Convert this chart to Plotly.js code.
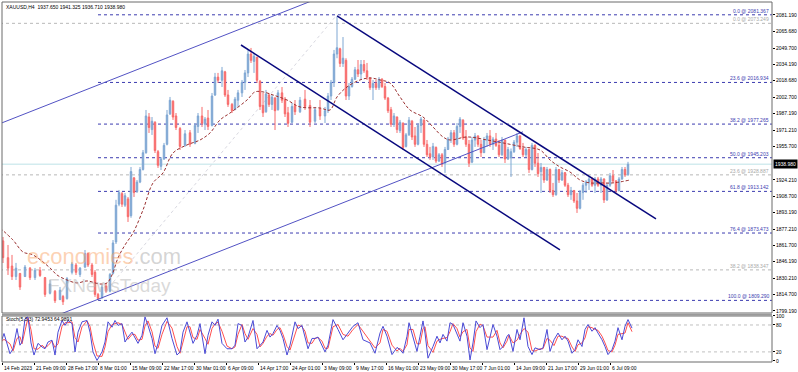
<!DOCTYPE html>
<html><head><meta charset="utf-8">
<script src="https://cdn.plot.ly/plotly-3.0.1.min.js"></script>
<style>html,body{margin:0;padding:0;background:#fff}#chart{width:798px;height:372px}</style>
</head><body><div id="chart"></div>
<script>
// ---- data (bar index on the H4 time scale) ----
const bars = [3,8,12,16,20,25,30,35,40,45,50,55,60,63,67,72,76,80,85,88,92,95,98,102,106,110,113,116,119,122,125,128,131,134,137,140,143,146,149,152,155,158,161,164,167,170,173,176,180,185,190,195,198,202,205,208,212,215,218,222,225,228,232,235,238,242,245,248,251,254,257,260,263,266,269,272,275,278,282,285,288,292,295,300,305,310,315,320,325,328,331,334,337,340,343,346,349,352,355,358,361,364,367,370,373,376,379,382,385,388,391,394,397,400,403,406,409,412,415,418,421,424,427,430,433,436,439,442,445,448,451,454,457,460,463,466,469,472,475,478,481,484,487,490,493,496,499,502,505,508,511,514,517,520,523,526,529,532,535,538,541,544,547,550,553,556,559,562,565,568,571,574,577,580,583,586,589,592,595,598,601,604,607,610,613,616,619,622,625,628];
const opens = [1866,1850,1842,1832,1835,1832,1840,1831,1838,1831,1816,1818,1810,1813,1811,1836,1843,1834,1841,1854,1843,1836,1815,1812,1823,1818,1835,1865,1901,1911,1900,1906,1890,1926,1913,1922,1934,1950,1984,1972,1979,1951,1937,1944,1958,1987,1999,1985,1973,1957,1969,1959,1975,1985,1977,1983,1976,2005,2022,2019,2027,2005,1996,1991,2000,2007,2017,2026,2044,2037,2041,2018,1995,1989,2005,1996,2002,1991,2007,2001,1988,1979,1995,1989,2001,1995,1980,1992,1985,1990,2004,2017,2044,2049,2035,2038,2004,2013,2020,2029,2025,2034,2028,2021,2012,2016,2012,2020,2013,2002,1991,1977,1984,1971,1978,1956,1967,1980,1966,1958,1976,1981,1958,1949,1946,1955,1942,1948,1940,1953,1963,1969,1958,1975,1981,1965,1958,1941,1962,1966,1958,1950,1962,1966,1958,1963,1957,1948,1962,1944,1945,1951,1960,1966,1954,1948,1953,1934,1957,1940,1932,1936,1924,1934,1914,1910,1934,1924,1931,1919,1910,1914,1904,1897,1912,1919,1922,1925,1919,1925,1919,1925,1905,1919,1928,1923,1914,1925,1934,1929];
const highs = [1869.7,1862.1,1852.6,1845.0,1835.4,1843.0,1841.1,1840.2,1841.1,1831.6,1828.7,1819.2,1822.1,1814.5,1831.6,1845.9,1845.0,1841.1,1857.3,1855.0,1845.0,1838.2,1816.4,1824.0,1825.9,1835.4,1866.8,1905.1,1914.5,1912.6,1911.6,1907.8,1936.4,1926.9,1924.0,1936.4,1952.6,1990.7,1987.8,1984.0,1980.0,1952.6,1945.9,1959.3,1990.7,2003.1,2000.0,1987.8,1974.5,1971.6,1971.6,1978.3,1987.8,1993.6,1984.0,1990.7,2006.9,2026.0,2026.0,2031.7,2028.0,2009.8,1997.4,2003.1,2009.8,2019.3,2028.8,2047.9,2049.8,2045.0,2041.2,2019.3,2006.9,2009.8,2006.9,2005.0,2003.1,2009.8,2012.6,2003.1,1993.6,1997.4,2000.2,2003.1,2009.8,2000.2,1993.6,2000.2,1993.6,2006.9,2019.3,2047.9,2079.3,2050.0,2060.2,2040.0,2016.4,2022.1,2031.7,2038.3,2038.3,2038.3,2035.5,2022.1,2019.3,2019.3,2022.1,2021.0,2016.4,2003.1,1993.6,1987.8,1984.5,1981.2,1979.0,1968.8,1984.0,1981.2,1974.5,1978.3,1984.0,1982.0,1962.1,1955.5,1959.3,1956.0,1949.7,1949.7,1955.5,1965.0,1971.6,1971.6,1978.3,1984.0,1982.0,1971.6,1962.1,1965.0,1968.8,1966.5,1962.1,1965.0,1968.8,1971.6,1965.0,1968.8,1962.1,1965.0,1962.5,1955.5,1954.0,1962.1,1968.8,1966.5,1959.3,1955.5,1954.0,1959.3,1958.0,1949.7,1940.2,1936.4,1936.4,1935.0,1921.2,1936.4,1934.5,1933.5,1931.5,1921.2,1917.4,1914.5,1911.6,1914.5,1921.2,1924.0,1926.9,1926.9,1926.9,1926.9,1926.9,1925.5,1921.2,1930.7,1933.5,1924.0,1926.9,1936.4,1936.4,1941.3];
const lows = [1844.9,1833.5,1828.7,1828.7,1819.2,1831.6,1828.7,1828.7,1831.6,1812.6,1815.0,1806.8,1809.7,1804.9,1810.0,1834.0,1833.5,1831.6,1840.0,1841.1,1831.6,1812.6,1809.7,1810.5,1816.4,1817.0,1834.0,1863.0,1899.0,1898.3,1898.3,1884.0,1888.0,1907.8,1911.6,1921.0,1933.0,1949.0,1968.8,1966.9,1949.7,1935.5,1933.5,1943.1,1957.0,1985.9,1981.2,1971.6,1952.6,1955.5,1955.5,1958.0,1968.8,1974.5,1971.6,1971.6,1975.0,2004.0,2016.4,2012.6,2003.1,1993.6,1987.8,1990.7,1993.6,2003.1,2009.8,2022.1,2035.5,2026.0,2016.4,1990.7,1984.0,1988.0,1993.6,1990.7,1971.6,1990.0,1997.4,1984.0,1974.5,1978.3,1985.9,1987.8,1990.7,1974.5,1978.3,1981.2,1978.3,1987.8,2000.2,2012.6,2040.0,2031.7,2031.7,2000.2,2000.2,2012.0,2019.3,2022.1,2019.3,2026.0,2019.3,2009.8,2000.2,2009.8,2009.8,2011.6,2000.2,1987.8,1974.5,1974.5,1968.8,1968.8,1952.6,1955.0,1966.0,1962.1,1955.5,1957.0,1968.8,1955.5,1945.9,1943.1,1943.1,1940.2,1941.1,1936.4,1930.7,1952.6,1959.3,1955.5,1957.0,1968.8,1962.1,1955.5,1936.4,1940.0,1955.5,1955.5,1945.9,1949.7,1955.5,1955.5,1952.6,1955.5,1945.9,1947.0,1940.2,1943.0,1926.9,1949.7,1955.5,1952.6,1945.9,1945.9,1930.7,1933.0,1936.4,1926.9,1911.6,1921.2,1923.0,1911.6,1907.8,1909.0,1921.2,1923.0,1917.4,1907.8,1905.1,1902.1,1892.6,1896.0,1905.1,1911.6,1914.5,1917.4,1911.6,1917.4,1911.6,1902.1,1904.0,1917.4,1921.2,1911.6,1913.0,1924.0,1926.9,1928.0];
const closes = [1850,1840,1832,1840,1822,1841,1831,1838,1833,1815,1825,1809,1819,1808,1830,1844,1836,1840,1854,1843,1834,1815,1811,1822,1818,1834,1864,1900,1912,1901,1909,1889,1932,1912,1922,1934,1950,1985,1974,1980,1952,1938,1944,1957,1986,2000,1984,1974,1956,1968,1958,1976,1985,1978,1982,1975,2004,2022,2019,2028,2005,1996,1990,2001,2007,2017,2026,2044,2038,2042,2019,1994,1988,2006,1996,2003,1990,2007,2000,1987,1978,1994,1989,2000,1994,1979,1991,1985,1990,2004,2017,2044,2050,2035,2040,2004,2013,2020,2029,2025,2034,2028,2022,2012,2016,2012,2020,2013,2002,1990,1977,1985,1972,1979,1955,1967,1981,1965,1958,1976,1982,1958,1948,1946,1956,1942,1948,1939,1953,1963,1969,1958,1975,1982,1964,1958,1940,1962,1966,1958,1950,1962,1966,1958,1963,1957,1948,1962,1944,1953,1951,1960,1966,1954,1948,1953,1934,1957,1940,1930,1936,1924,1934,1914,1910,1934,1924,1931,1919,1910,1914,1904,1897,1912,1919,1922,1925,1919,1925,1919,1925,1905,1919,1928,1923,1914,1925,1934,1929,1938.98];

const maBars = [0,13,23,33,50,57,67,77,87,100,107,112,118,125,133,143,153,163,173,187,200,210,220,230,247,255,263,273,287,300,320,330,337,347,360,370,380,390,400,410,423,433,443,450,467,487,503,523,540,550,560,570,580,590,600,613,630];
const maValues = [1878.3,1866.8,1855.4,1852.6,1840.2,1833.5,1828.7,1825.9,1827.8,1824.9,1825.9,1833.5,1849.7,1862.1,1873.5,1895.4,1921.2,1930.7,1949.7,1957.4,1962.1,1968.8,1981.2,1987.8,2000.2,2007.9,2007.9,2005.0,2000.2,1993.6,1992.6,1990.7,2003.1,2012.6,2019.3,2021.2,2019.3,2016.4,2003.1,1990.7,1984.0,1974.5,1965.0,1962.1,1965.0,1962.1,1959.3,1955.5,1952.6,1943.1,1936.4,1931.6,1924.0,1921.2,1921.2,1921.2,1924.0];

const stochBars = [0,4,10,13,17,20,22,25,28,31,34,38,42,45,48,52,55,58,62,65,68,72,75,78,82,87,90,93,97,102,105,108,112,115,118,122,125,128,132,135,138,142,145,148,152,155,158,162,167,172,177,180,183,187,190,193,197,200,205,208,212,215,218,222,227,232,235,238,242,245,248,253,257,260,263,267,270,273,277,280,283,287,290,295,298,302,305,308,312,315,318,322,325,328,330,333,338,343,348,353,358,363,370,375,380,383,387,392,397,400,403,407,409,413,417,420,423,425,428,433,437,440,443,447,450,453,457,460,463,467,470,473,476,480,483,487,493,497,500,503,507,509,513,517,520,524,528,532,535,540,543,547,550,554,558,562,565,568,572,575,578,582,585,588,592,595,598,602,605,608,612,615,618,622,625,628,632];
const stochMain = [35,61,16,27,72,35,42,94,98,40,13,39,31,27,42,46,13,64,90,79,90,83,20,64,87,90,64,20,1,20,42,87,75,90,79,83,42,53,64,53,39,57,98,79,50,16,39,79,96,50,13,20,64,87,64,39,57,83,16,57,87,79,93,39,27,27,35,83,79,42,53,90,27,35,42,68,53,61,79,68,50,13,35,87,72,79,53,27,50,50,53,35,20,35,60,92,70,47,62,77,85,47,40,17,62,77,55,14,30,25,17,55,85,55,21,55,89,62,6,32,55,40,59,44,85,81,62,44,85,55,2,40,89,74,81,25,81,55,25,32,55,59,21,70,47,96,32,14,29,25,29,70,21,47,62,47,55,44,17,25,47,32,70,81,66,74,62,47,32,14,25,44,74,47,77,92,73];
const stochSignal = [40,48,38,22,50,54,38,68,96,69,27,26,35,29,34,44,30,38,77,85,85,87,52,42,76,89,77,42,11,10,31,65,81,83,85,81,63,48,59,59,46,48,78,89,65,33,28,59,88,73,32,17,42,76,76,52,48,70,50,37,72,83,86,66,33,27,31,59,81,61,48,72,59,31,39,55,61,57,70,74,59,32,24,61,80,76,66,40,39,50,52,44,28,28,48,76,81,59,55,70,81,66,44,29,40,70,66,35,22,28,21,36,70,70,38,38,72,76,34,19,44,48,50,52,65,83,72,53,65,70,29,21,65,82,78,53,53,68,40,29,44,57,40,46,59,72,64,23,22,27,27,50,46,34,55,55,51,50,31,21,36,40,51,76,74,70,68,55,40,23,20,35,59,61,62,85,65];

const priceTicks = [2081.19,2065.68,2049.70,2034.19,2018.68,2002.70,1987.19,1971.21,1955.70,1924.21,1908.70,1893.19,1877.21,1861.70,1846.19,1830.21,1814.70,1799.19];
const currentPrice = 1938.98;
const timeLabelBars = [2,34,66,98,130,162,194,226,258,290,322,354,386,418,450,482,514,546,578,610];
const timeLabels = ["14 Feb 2023","21 Feb 09:00","28 Feb 17:00","8 Mar 01:00","15 Mar 09:00","22 Mar 17:00","30 Mar 01:00","6 Apr 09:00","14 Apr 17:00","24 Apr 01:00","3 May 09:00","9 May 17:00","16 May 01:00","23 May 09:00","30 May 17:00","7 Jun 01:00","14 Jun 09:00","21 Jun 17:00","29 Jun 01:00","6 Jul 09:00"];
const fibBlueLevels = ["0.0","23.6","38.2","50.0","61.8","76.4","100.0"];
const fibBluePrices = [2081.367,2016.934,1977.265,1945.203,1913.142,1873.473,1809.290];
const fibGrayLevels = ["0.0","23.6","38.2"];
const fibGrayPrices = [2073.249,1928.887,1838.347];
const fibBlueStartBar = 98;
// trend line anchors [bar, price]
const upChannelTop = [[0,1977.7],[314,2095.5]];
const upChannelBottom = [[62,1796.8],[523,1969.9]];
const downChannelTop = [[337,2080.3],[656,1886.9]];
const downChannelBottom = [[241,2052.6],[560,1857.3]];
const fibTrend = [[98,1809.3],[337,2081.4]];

const FONT = "Liberation Sans, Arial, sans-serif";
const X_END = 772;

const traces = [
  {type:'candlestick', x:bars, open:opens, high:highs, low:lows, close:closes, xaxis:'x', yaxis:'y',
   increasing:{line:{color:'#7fa7d3', width:1}, fillcolor:'#7fa7d3'},
   decreasing:{line:{color:'#f76b6b', width:1}, fillcolor:'#f76b6b'},
   hoverinfo:'skip', showlegend:false},
  {type:'scatter', mode:'lines', x:maBars, y:maValues, xaxis:'x', yaxis:'y',
   line:{color:'#9a3030', width:1, dash:'3px,2px', shape:'spline'}, hoverinfo:'skip', showlegend:false},
  {type:'scatter', mode:'lines', x:stochBars, y:stochSignal, xaxis:'x', yaxis:'y2',
   line:{color:'#ff5050', width:1}, hoverinfo:'skip', showlegend:false},
  {type:'scatter', mode:'lines', x:stochBars, y:stochMain, xaxis:'x', yaxis:'y2',
   line:{color:'#4b4bd6', width:1}, hoverinfo:'skip', showlegend:false}
];

const shapes = [];
const annotations = [];
// current price line
shapes.push({type:'line', xref:'x', yref:'y', x0:0, x1:X_END, y0:currentPrice, y1:currentPrice, line:{color:'#d3ecef', width:1.5}, layer:'below'});
// gray fib
fibGrayPrices.forEach((p,i)=>{
  shapes.push({type:'line', xref:'x', yref:'y', x0:0, x1:X_END, y0:p, y1:p, line:{color:'#b8b8b8', width:1, dash:'dot'}, layer:'below'});
  annotations.push({xref:'paper', yref:'y', x:0.9987, y:p, xanchor:'right', yanchor:'bottom', yshift:-1, showarrow:false,
    text:fibGrayLevels[i]+' @ '+p.toFixed(3), font:{family:FONT, size:5, color:'#a8a8a8'}});
});
// blue fib
fibBluePrices.forEach((p,i)=>{
  shapes.push({type:'line', xref:'x', yref:'y', x0:fibBlueStartBar, x1:X_END, y0:p, y1:p, line:{color:'#3c3cb0', width:1, dash:'dot'}, layer:'below'});
  annotations.push({xref:'paper', yref:'y', x:0.9987, y:p, xanchor:'right', yanchor:'bottom', yshift:-1, showarrow:false,
    text:fibBlueLevels[i]+' @ '+p.toFixed(3), font:{family:FONT, size:5, color:'#3c3cb0'}});
});
shapes.push({type:'line', xref:'x', yref:'y', x0:fibTrend[0][0], y0:fibTrend[0][1], x1:fibTrend[1][0], y1:fibTrend[1][1], line:{color:'#d8d8e0', width:1, dash:'dot'}, layer:'below'});
// channels
[upChannelTop, upChannelBottom].forEach(c=>shapes.push({type:'line', xref:'x', yref:'y', x0:c[0][0], y0:c[0][1], x1:c[1][0], y1:c[1][1], line:{color:'#5252c4', width:1}}));
[downChannelTop, downChannelBottom].forEach(c=>shapes.push({type:'line', xref:'x', yref:'y', x0:c[0][0], y0:c[0][1], x1:c[1][0], y1:c[1][1], line:{color:'#08087e', width:1.5}}));
// stoch levels
[80,20].forEach(v=>shapes.push({type:'line', xref:'x', yref:'y2', x0:0, x1:X_END, y0:v, y1:v, line:{color:'#c0c0c0', width:1, dash:'dot'}, layer:'below'}));
// frames
shapes.push({type:'rect', xref:'paper', yref:'paper', x0:0, x1:1, y0:0.1361, y1:1, line:{color:'#6a6a6a', width:1}});
shapes.push({type:'rect', xref:'paper', yref:'paper', x0:0, x1:1, y0:0, y1:0.1278, line:{color:'#6a6a6a', width:1}});
shapes.push({type:'line', xref:'paper', yref:'paper', x0:0, x1:1, y0:0.1315, y1:0.1315, line:{color:'#9a9a9a', width:2}});

// current price tag
annotations.push({xref:'paper', yref:'y', x:1, y:currentPrice, xanchor:'left', yanchor:'middle', xshift:1, showarrow:false,
  text:currentPrice.toFixed(3), bgcolor:'#000', borderpad:1, font:{family:FONT, size:5, color:'#fff'}});
// time labels
timeLabelBars.forEach((b,i)=>annotations.push({xref:'x', yref:'paper', x:b, y:0, xanchor:'left', yanchor:'top', yshift:-1, showarrow:false,
  text:timeLabels[i], font:{family:FONT, size:5, color:'#000'}}));
// titles
annotations.push({xref:'paper', yref:'paper', x:0.002, y:0.986, xanchor:'left', yanchor:'middle', showarrow:false,
  text:'XAUUSD,H4  1937.650 1941.325 1936.710 1938.980', font:{family:FONT, size:5, color:'#000'}});
annotations.push({xref:'paper', yref:'paper', x:0.002, y:0.119, xanchor:'left', yanchor:'middle', showarrow:false,
  text:'Stoch(5,3,3) 72.9453 64.9891', font:{family:FONT, size:5, color:'#000'}});
// watermark
annotations.push({xref:'x', yref:'paper', x:25, y:0.292, xanchor:'left', yanchor:'middle', showarrow:false,
  text:'<span style="color:rgba(250,165,105,0.5)">economies</span><span style="color:rgba(160,160,160,0.45)">.com</span>', font:{family:FONT, size:22}});
annotations.push({xref:'x', yref:'paper', x:46, y:0.212, xanchor:'left', yanchor:'middle', showarrow:false,
  text:'FXNewsToday', font:{family:FONT, size:19, color:'rgba(180,180,180,0.5)'}});

const layout = {
  width:798, height:372, margin:{l:2, r:26, t:2, b:10},
  paper_bgcolor:'#fff', plot_bgcolor:'#fff', showlegend:false, hovermode:false,
  xaxis:{range:[2, X_END], anchor:'y2', showgrid:false, zeroline:false, showticklabels:false,
    ticks:'outside', tickvals:timeLabelBars, ticklen:2, tickcolor:'#000', tickwidth:1,
    rangeslider:{visible:false}, fixedrange:true},
  yaxis:{domain:[0.1361,1], range:[1797.27,2093.57], side:'right', tickvals:priceTicks, ticktext:priceTicks.map(v=>v.toFixed(3)),
    ticks:'outside', ticklen:2, tickcolor:'#000', tickfont:{family:FONT, size:5, color:'#000'},
    showgrid:false, zeroline:false, showline:false, fixedrange:true},
  yaxis2:{domain:[0,0.1278], range:[-2.5,100], side:'right', tickvals:[0,20,80,100], ticktext:['0','20','80','100'],
    ticks:'outside', ticklen:2, tickcolor:'#000', tickfont:{family:FONT, size:5, color:'#000'},
    showgrid:false, zeroline:false, showline:false, fixedrange:true},
  shapes:shapes, annotations:annotations
};
Plotly.newPlot('chart', traces, layout, {staticPlot:true, displayModeBar:false});
</script></body></html>
